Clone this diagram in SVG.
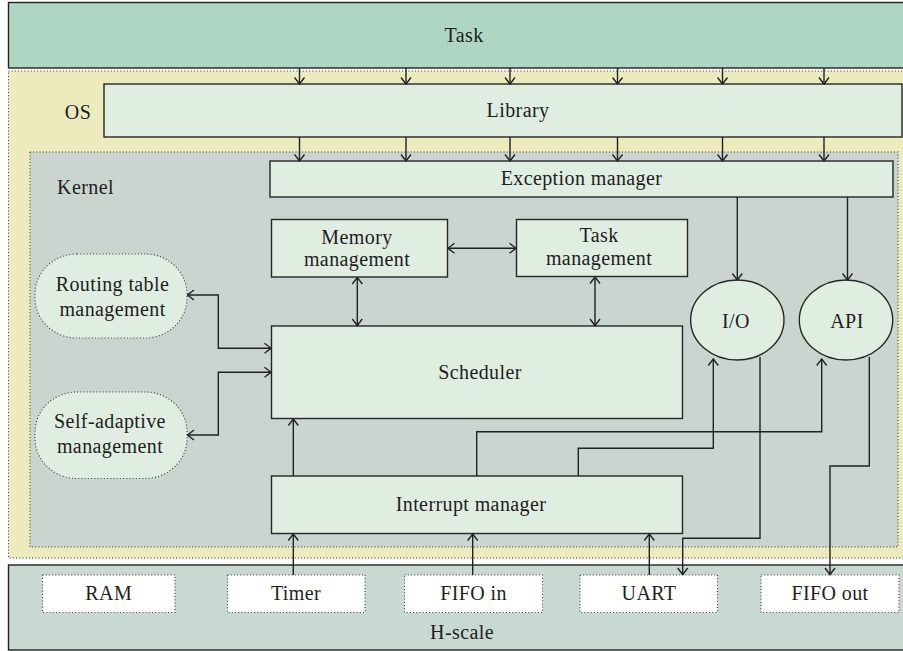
<svg xmlns="http://www.w3.org/2000/svg" width="903" height="651" viewBox="0 0 903 651">
  <style>
    text { font-family: 'Liberation Serif', 'DejaVu Serif', serif; font-size: 20px; fill: #1e1e1e; letter-spacing: 0.4px; text-anchor: middle; }
    .box { fill: #e0ede1; stroke: #262626; stroke-width: 1.4; }
    .dotted { stroke: #333; stroke-width: 1.1; stroke-dasharray: 1 2.2; }
    .wire { fill: none; stroke: #222; stroke-width: 1.4; }
  </style>
  <defs>
    <marker id="arrow" viewBox="-8 -6 9 12" refX="0" refY="0" markerWidth="9" markerHeight="12" markerUnits="userSpaceOnUse" orient="auto-start-reverse">
      <path d="M-6.5,-5 L0,0 L-6.5,5" fill="none" stroke="#222" stroke-width="1.4"/>
    </marker>
  </defs>

  <rect width="903" height="651" fill="#ffffff"/>

  <!-- layers -->
  <g id="task-layer">
    <rect x="8.5" y="2.5" width="900" height="65.5" fill="#afd5c3" stroke="#222" stroke-width="1.4"/>
    <text x="464" y="42">Task</text>
  </g>
  <g id="os-layer">
    <rect x="8.5" y="71" width="900" height="487" fill="#ebebbe" class="dotted"/>
    <text x="78" y="119">OS</text>
  </g>
  <g id="kernel-layer">
    <rect x="30" y="152" width="868" height="395" fill="#cbd5d0" class="dotted"/>
    <text x="85.5" y="194">Kernel</text>
  </g>
  <g id="hscale-layer">
    <rect x="8.5" y="565" width="900" height="85" fill="#c8d9d1" stroke="#222" stroke-width="1.4"/>
    <text x="462" y="639">H-scale</text>
  </g>

  <!-- nodes -->
  <g id="library">
    <rect class="box" x="104" y="84" width="798" height="53"/>
    <text x="518" y="117">Library</text>
  </g>
  <g id="exception-manager">
    <rect class="box" x="270" y="161" width="623" height="36"/>
    <text x="581.5" y="185">Exception manager</text>
  </g>
  <g id="memory-management">
    <rect class="box" x="271.5" y="219.5" width="176" height="57.5"/>
    <text x="357" y="244">Memory</text>
    <text x="357" y="266">management</text>
  </g>
  <g id="task-management">
    <rect class="box" x="516.5" y="219.5" width="171" height="57"/>
    <text x="599" y="242">Task</text>
    <text x="599" y="265">management</text>
  </g>
  <g id="scheduler">
    <rect class="box" x="271.5" y="326" width="411" height="92.5"/>
    <text x="480" y="379">Scheduler</text>
  </g>
  <g id="interrupt-manager">
    <rect class="box" x="271.5" y="476" width="411" height="57.5"/>
    <text x="471" y="511">Interrupt manager</text>
  </g>
  <g id="io">
    <ellipse class="box" cx="737.3" cy="320" rx="46.7" ry="40"/>
    <text x="736" y="328">I/O</text>
  </g>
  <g id="api">
    <ellipse class="box" cx="846" cy="320" rx="46.7" ry="40"/>
    <text x="847" y="328">API</text>
  </g>
  <g id="routing-table-management">
    <rect x="35" y="254" width="152" height="84" rx="42" ry="40" fill="#e0ede1" class="dotted"/>
    <text x="112.5" y="291">Routing table</text>
    <text x="112.5" y="316">management</text>
  </g>
  <g id="self-adaptive-management">
    <rect x="35" y="392" width="152" height="86.5" rx="42" ry="40" fill="#e0ede1" class="dotted"/>
    <text x="110" y="428">Self-adaptive</text>
    <text x="110" y="453">management</text>
  </g>
  <g id="ram">
    <rect x="42.5" y="575" width="132.5" height="37.5" fill="#ffffff" class="dotted"/>
    <text x="108.7" y="600">RAM</text>
  </g>
  <g id="timer">
    <rect x="227.5" y="575" width="137.5" height="37.5" fill="#ffffff" class="dotted"/>
    <text x="296" y="600">Timer</text>
  </g>
  <g id="fifo-in">
    <rect x="404.5" y="575" width="138" height="37.5" fill="#ffffff" class="dotted"/>
    <text x="473.5" y="600">FIFO in</text>
  </g>
  <g id="uart">
    <rect x="580" y="575" width="137.5" height="37.5" fill="#ffffff" class="dotted"/>
    <text x="649" y="600">UART</text>
  </g>
  <g id="fifo-out">
    <rect x="761" y="575" width="138" height="37.5" fill="#ffffff" class="dotted"/>
    <text x="830" y="600">FIFO out</text>
  </g>

  <!-- connectors -->
  <g id="connectors" class="wire" marker-end="url(#arrow)">
    <!-- Task to Library -->
    <path d="M299.5,68 V84"/>
    <path d="M406,68 V84"/>
    <path d="M510,68 V84"/>
    <path d="M617.5,68 V84"/>
    <path d="M722.5,68 V84"/>
    <path d="M824,68 V84"/>
    <!-- Library to Exception manager -->
    <path d="M299.5,137 V161"/>
    <path d="M406,137 V161"/>
    <path d="M510,137 V161"/>
    <path d="M617.5,137 V161"/>
    <path d="M722.5,137 V161"/>
    <path d="M824,137 V161"/>
    <!-- Exception manager to I/O and API -->
    <path d="M737.3,197 V280"/>
    <path d="M847.5,197 V280"/>
    <!-- two-way links -->
    <path d="M448,248.3 H516" marker-start="url(#arrow)"/>
    <path d="M357.3,277.5 V325.5" marker-start="url(#arrow)"/>
    <path d="M595,277 V325.5" marker-start="url(#arrow)"/>
    <path d="M187.5,295 H218.3 V348.3 H271" marker-start="url(#arrow)"/>
    <path d="M187.5,435 H218.3 V372.3 H271" marker-start="url(#arrow)"/>
    <!-- Interrupt manager outputs -->
    <path d="M293.3,476 V419"/>
    <path d="M578.3,476 V448.3 H713.3 V359"/>
    <path d="M476.7,476 V431.7 H821.7 V359"/>
    <!-- device inputs to Interrupt manager -->
    <path d="M293.3,575 V534"/>
    <path d="M472.7,575 V534"/>
    <path d="M649.3,575 V534"/>
    <!-- I/O and API to devices -->
    <path d="M760,357 V538.3 H682.7 V574.5"/>
    <path d="M869.3,357 V466 H830 V574.5"/>
  </g>
</svg>
